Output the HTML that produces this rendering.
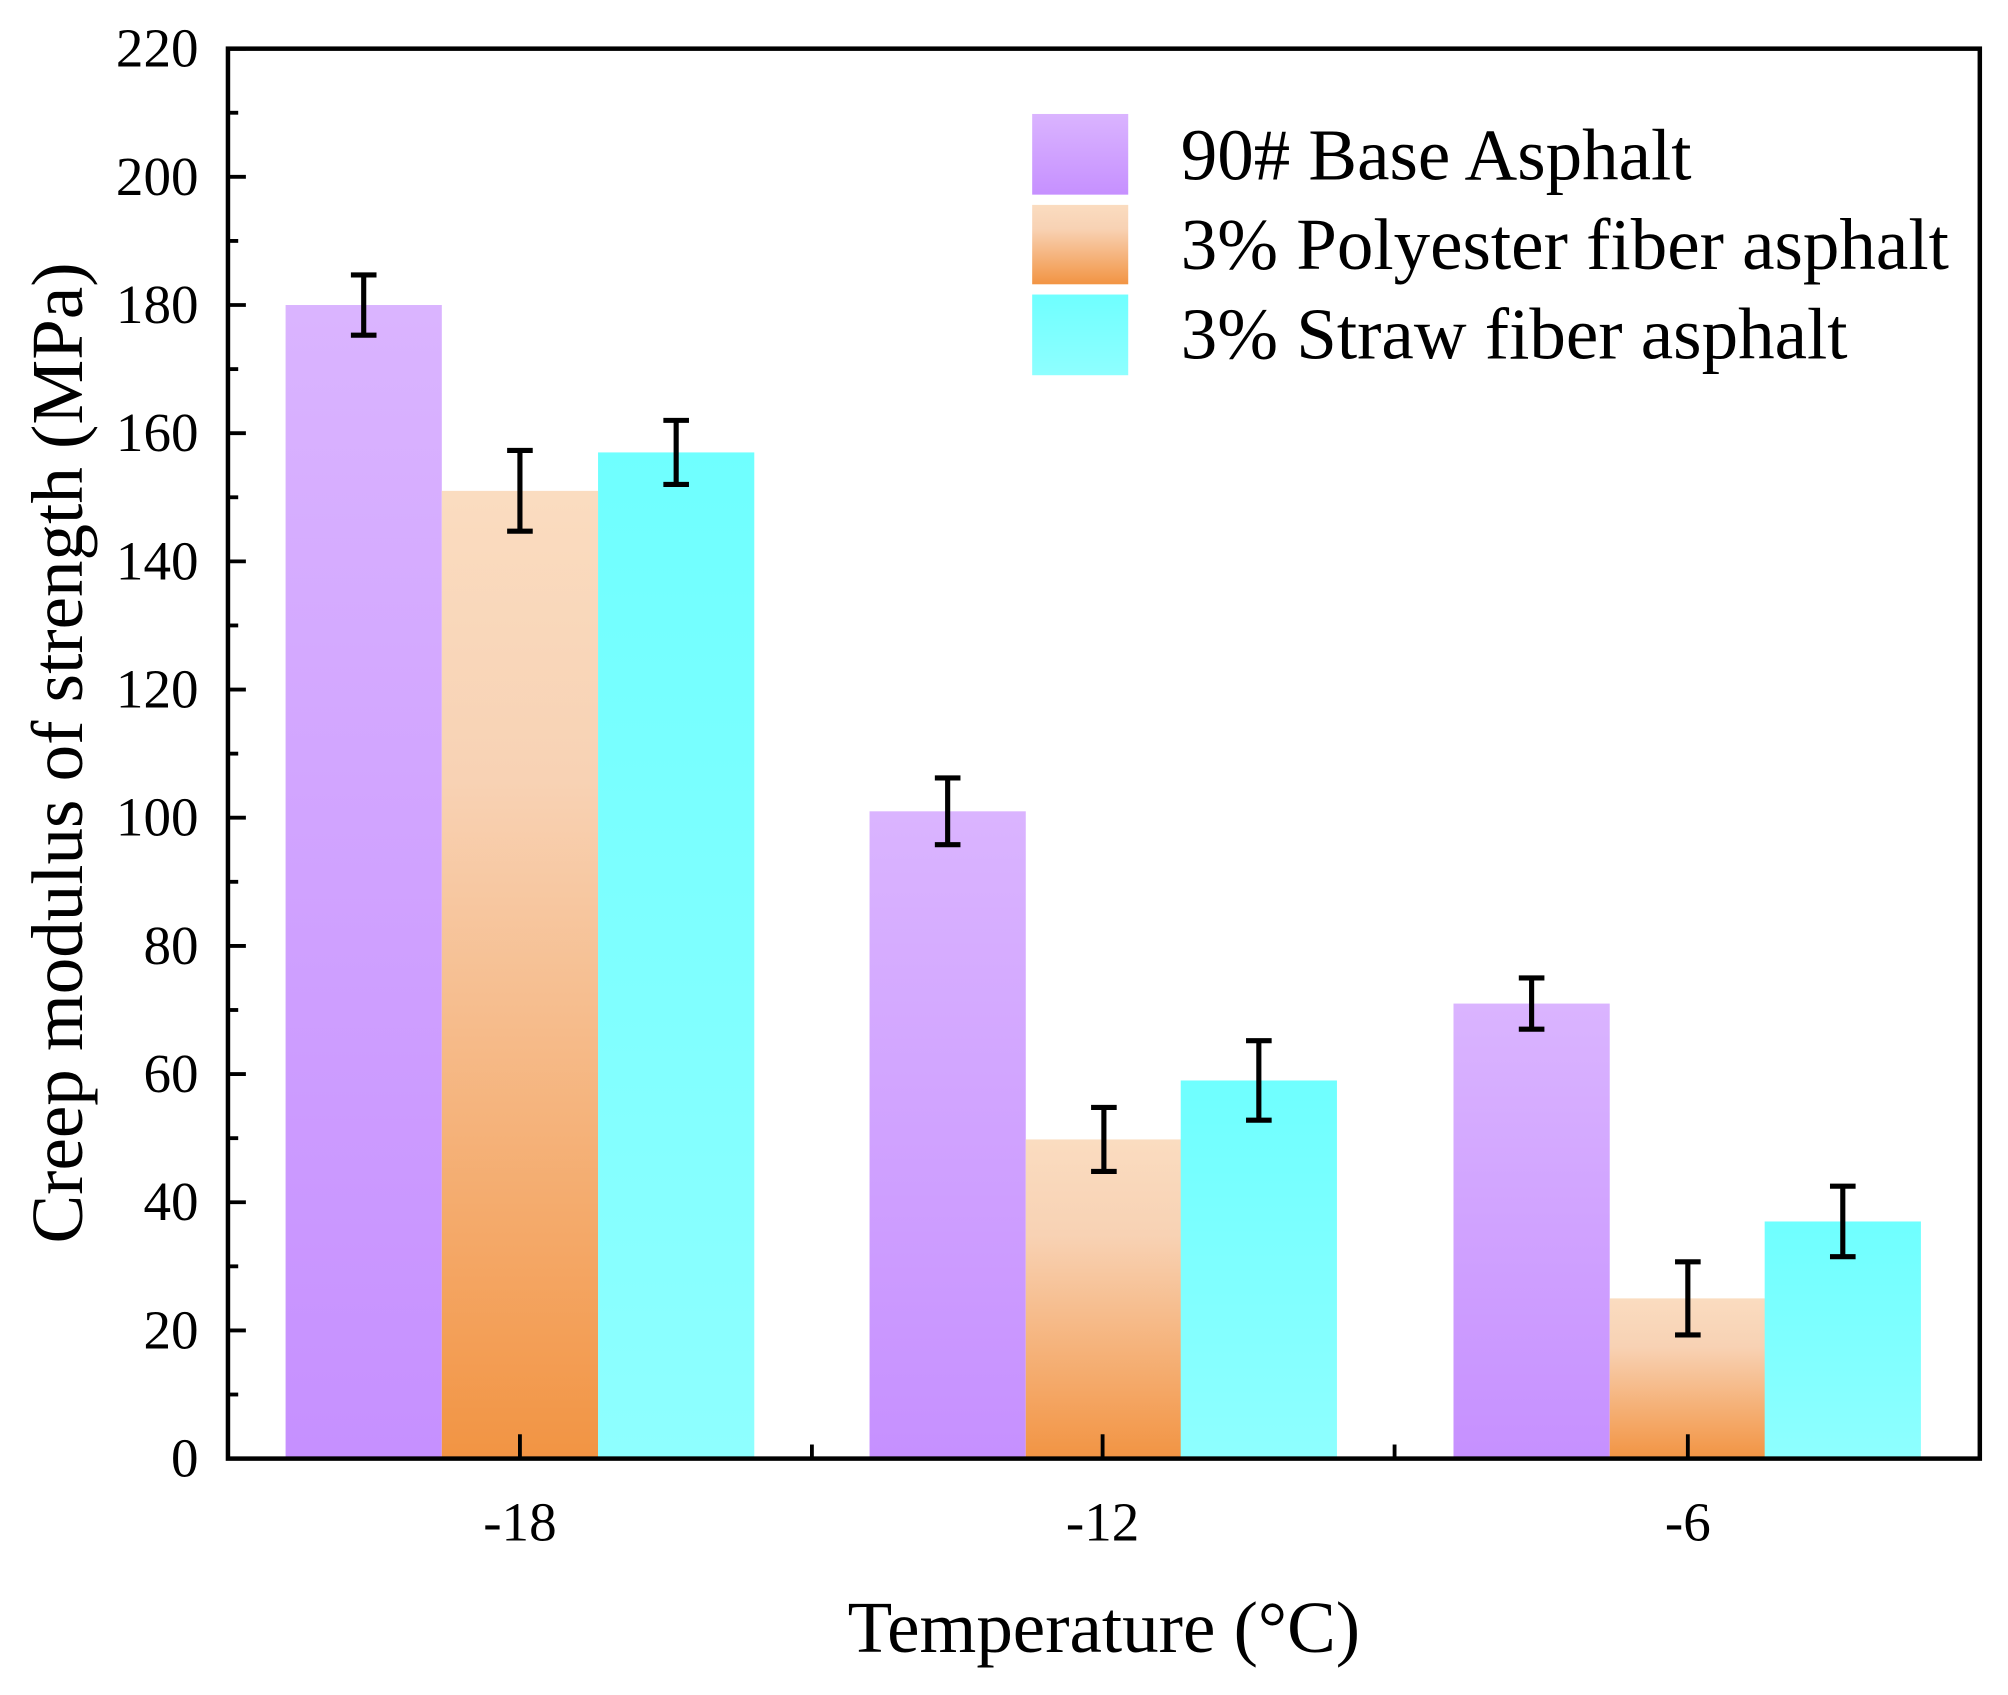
<!DOCTYPE html>
<html><head><meta charset="utf-8"><style>html,body{margin:0;padding:0;background:#fff}svg{display:block}</style></head>
<body>
<svg width="2008" height="1695" viewBox="0 0 1568 1323.6" xmlns="http://www.w3.org/2000/svg" font-family="Liberation Serif, serif">
<defs>
<linearGradient id="gp" x1="0" y1="0" x2="0" y2="1"><stop offset="0" stop-color="#dab4ff"/><stop offset="1" stop-color="#c690ff"/></linearGradient>
<linearGradient id="go" x1="0" y1="0" x2="0" y2="1"><stop offset="0" stop-color="#fadcc0"/><stop offset="0.3" stop-color="#f8d2b4"/><stop offset="1" stop-color="#f29443"/></linearGradient>
<linearGradient id="gc" x1="0" y1="0" x2="0" y2="1"><stop offset="0" stop-color="#6fffff"/><stop offset="1" stop-color="#8effff"/></linearGradient>
</defs>
<g id="bars"></g>
<script>
(function(){
var ns="http://www.w3.org/2000/svg",svg=document.currentScript.parentNode,g=svg.querySelector('#bars');
function Y(v){return 1139-v*1101/220;}
function el(t,a,p){var e=document.createElementNS(ns,t);for(var k in a)e.setAttribute(k,a[k]);(p||svg).appendChild(e);return e;}
var data=[[223,180,4.7,'gp'],[345,151,6.3,'go'],[467,157,5,'gc'],[679,101,5.2,'gp'],[801,49.8,5,'go'],[922,59,6.2,'gc'],[1135,71,4,'gp'],[1257,25,5.7,'go'],[1378,37,5.5,'gc']];
data.forEach(function(d){
 el('rect',{x:d[0],y:Y(d[1]),width:122,height:1139-Y(d[1]),fill:'url(#'+d[3]+')'},g);
 var cx=d[0]+61,t=Y(d[1]+d[2]),b=Y(d[1]-d[2]);
 el('path',{d:'M'+cx+' '+t+'V'+b+'M'+(cx-10)+' '+t+'H'+(cx+10)+'M'+(cx-10)+' '+b+'H'+(cx+10),stroke:'#000','stroke-width':4,fill:'none'},g);
});
for(var v=0;v<=220;v+=10){var y=Y(v);var maj=v%20==0;
 el('line',{x1:178,x2:178+(maj?14:8),y1:y,y2:y,stroke:'#000','stroke-width':3},g);
 if(maj){var t=el('text',{x:155,y:y+14,'text-anchor':'end','font-size':43},g);t.textContent=v;}
}
[[406,'-18'],[861,'-12'],[1318,'-6']].forEach(function(a){el('line',{x1:a[0],x2:a[0],y1:1139,y2:1120,stroke:'#000','stroke-width':3},g);var t=el('text',{x:a[0],y:1203,'text-anchor':'middle','font-size':43},g);t.textContent=a[1];});
[634,1089].forEach(function(x){el('line',{x1:x,x2:x,y1:1139,y2:1128,stroke:'#000','stroke-width':3},g);});
})();
</script>
<rect x="178" y="38" width="1368" height="1101" fill="none" stroke="#000" stroke-width="3.5"/>
<rect x="806" y="89" width="75" height="63" fill="url(#gp)"/>
<rect x="806" y="160" width="75" height="62" fill="url(#go)"/>
<rect x="806" y="230" width="75" height="63" fill="url(#gc)"/>
<text x="922" y="140" font-size="57">90# Base Asphalt</text>
<text x="922" y="210" font-size="57">3% Polyester fiber asphalt</text>
<text x="922" y="280" font-size="57">3% Straw fiber asphalt</text>
<text x="862" y="1290" text-anchor="middle" font-size="57">Temperature (°C)</text>
<text transform="translate(64,588) rotate(-90)" text-anchor="middle" font-size="57">Creep modulus of strength (MPa)</text>
</svg>
</body></html>
